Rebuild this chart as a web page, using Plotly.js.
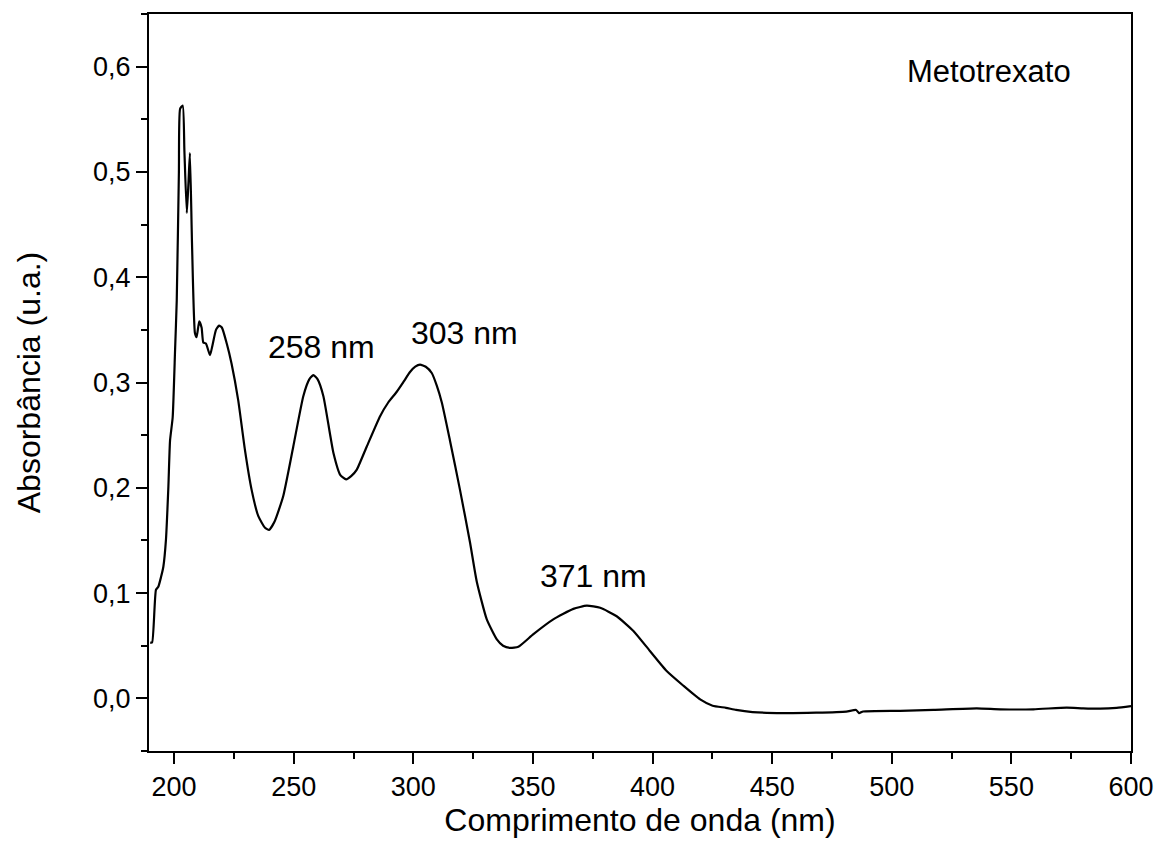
<!DOCTYPE html>
<html>
<head>
<meta charset="utf-8">
<script src="https://cdn.plot.ly/plotly-3.0.1.min.js"></script>
<style>html,body{margin:0;padding:0;background:#fff;}#chart{width:1157px;height:853px;}</style>
</head>
<body>
<div id="chart"></div>
<script>
const wavelength = [190.0,190.8,192.4,193.4,194.5,195.5,196.6,197.6,198.3,199.4,200.4,201.1,202.0,202.5,203.6,204.3,205.3,206.0,206.6,207.5,208.7,209.4,210.5,211.5,212.2,213.3,215.0,216.0,217.5,218.8,220.0,222.0,224.0,226.8,229.6,232.4,235.2,238.0,239.7,242.0,245.6,249.8,254.0,256.5,258.2,260.0,262.4,266.6,269.5,271.9,274.0,276.3,280.5,286.1,289.5,293.0,296.0,298.6,300.8,302.8,305.2,307.7,309.8,311.9,315.3,319.5,323.7,326.5,330.7,334.9,337.5,340.4,343.9,350.2,358.5,366.9,372.5,378.1,385.0,392.0,398.9,405.9,412.9,419.9,425.1,430.7,434.9,441.8,454.4,468.4,481.0,485.1,486.3,488.0,503.5,517.4,535.5,545.3,559.2,573.1,580.0,587.1,594.0,600.0];
const absorbance = [0.053,0.053,0.103,0.106,0.115,0.125,0.151,0.201,0.245,0.267,0.331,0.378,0.50,0.560,0.563,0.52,0.461,0.49,0.518,0.43,0.347,0.343,0.358,0.352,0.338,0.337,0.326,0.335,0.350,0.354,0.352,0.337,0.318,0.283,0.236,0.198,0.173,0.162,0.160,0.168,0.192,0.239,0.287,0.303,0.307,0.303,0.287,0.233,0.212,0.208,0.211,0.217,0.239,0.268,0.281,0.291,0.301,0.310,0.315,0.317,0.315,0.309,0.297,0.281,0.245,0.198,0.148,0.111,0.075,0.056,0.050,0.048,0.049,0.061,0.075,0.085,0.088,0.086,0.078,0.064,0.045,0.026,0.012,-0.001,-0.007,-0.009,-0.011,-0.013,-0.014,-0.0136,-0.0126,-0.011,-0.014,-0.0125,-0.0118,-0.011,-0.0095,-0.0104,-0.0104,-0.0088,-0.0095,-0.0098,-0.009,-0.0073];

const peakLabels = ["258 nm","303 nm","371 nm"];
const peakLabelX = [261.8,321.2,375.5];
const peakLabelY = [0.334,0.347,0.116];
const sampleName = "Metotrexato";
const xTitle = "Comprimento de onda (nm)";
const yTitle = "Absorbância (u.a.)";

const FONT = "Arial, 'Liberation Sans', sans-serif";

const annotations = peakLabels.map((t,i)=>({
  x: peakLabelX[i], y: peakLabelY[i], xref:'x', yref:'y', text:t, showarrow:false,
  font:{family:FONT,size:32,color:'#000'}
}));
annotations.push({x:540.5,y:0.595,xref:'x',yref:'y',text:sampleName,showarrow:false,font:{family:FONT,size:31,color:'#000'}});

const trace = {x:wavelength,y:absorbance,type:'scatter',mode:'lines',line:{color:'#000',width:2.2,shape:'spline',smoothing:0.5},hoverinfo:'skip'};

const axisCommon = {
  showgrid:false, zeroline:false, showline:true, linecolor:'#000', linewidth:2,
  mirror:true, ticks:'outside', ticklen:11, tickwidth:2, tickcolor:'#000',
  tickfont:{family:FONT,size:27,color:'#000'}
};

const layout = {
  width:1157, height:853,
  margin:{l:149,r:26,t:14,b:102},
  paper_bgcolor:'#fff', plot_bgcolor:'#fff',
  separators:',.',
  showlegend:false,
  xaxis:Object.assign({}, axisCommon, {
    range:[189.5,600], tick0:200, dtick:50,
    minor:{ticks:'outside',ticklen:6,tickwidth:2,tickcolor:'#000',dtick:25,tick0:200},
    title:{text:xTitle,font:{family:FONT,size:32,color:'#000'},standoff:5}
  }),
  yaxis:Object.assign({}, axisCommon, {
    range:[-0.05,0.65], tick0:0, dtick:0.1, tickformat:'.1f',
    minor:{ticks:'outside',ticklen:6,tickwidth:2,tickcolor:'#000',dtick:0.05,tick0:0},
    title:{text:yTitle,font:{family:FONT,size:32,color:'#000'},standoff:43}
  }),
  annotations:annotations
};

Plotly.newPlot('chart',[trace],layout,{staticPlot:true,displayModeBar:false});
</script>
</body>
</html>
